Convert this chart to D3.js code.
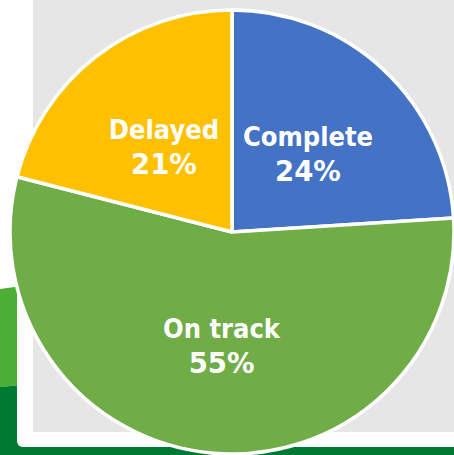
<!DOCTYPE html>
<html>
<head>
<meta charset="utf-8">
<script src="https://cdn.jsdelivr.net/npm/d3@7"></script>
<style>
  html, body { margin: 0; padding: 0; background: #ffffff; overflow: hidden; }
  svg { display: block; }
</style>
</head>
<body>
<script>
const categories = ["Complete", "On track", "Delayed"];
const values = [24, 55, 21];
const percentLabels = ["24%", "55%", "21%"];
const colors = ["#4472C4", "#70AD47", "#FFC000"];

const W = 454, H = 455;
const svg = d3.select("body").append("svg").attr("width", W).attr("height", H);

// slide decoration
svg.append("rect").attr("x", 0).attr("y", 0).attr("width", W).attr("height", H).attr("fill", "#ffffff");
svg.append("polygon").attr("points", "0,289 22,286 22,385 0,387").attr("fill", "#4DAE35");
svg.append("polygon").attr("points", "0,387 22,385 22,455 0,455").attr("fill", "#007A33");
svg.append("rect").attr("x", 0).attr("y", 447).attr("width", W).attr("height", 8).attr("fill", "#007A33");
svg.append("rect").attr("x", 17).attr("y", -20).attr("width", 470).attr("height", 467).attr("rx", 6).attr("fill", "#ffffff");
// plot area
svg.append("rect").attr("x", 33).attr("y", 0).attr("width", W - 33).attr("height", 432).attr("fill", "#E6E6E6");

const cx = 232, cy = 232, r = 222;
const pie = d3.pie().sort(null).value(d => d.value);
const data = categories.map((c, i) => ({ name: c, value: values[i], pct: percentLabels[i], color: colors[i] }));
const arcs = pie(data);
const arc = d3.arc().innerRadius(0).outerRadius(r);

const g = svg.append("g").attr("transform", `translate(${cx},${cy})`);
g.selectAll("path.slice").data(arcs).enter().append("path")
  .attr("class", "slice")
  .attr("d", arc)
  .attr("fill", d => d.data.color)
  .attr("stroke", "#ffffff")
  .attr("stroke-width", 3.5)
  .attr("stroke-linejoin", "round");

const labels = g.selectAll("text.lbl").data(arcs).enter().append("text")
  .attr("class", "lbl")
  .attr("transform", d => `translate(${arc.centroid(d)})`)
  .attr("text-anchor", "middle")
  .attr("fill", "#ffffff")
  .style("font-weight", "bold");
labels.append("tspan").attr("x", 0).attr("y", -5)
  .style("font-family", "'DejaVu Sans Condensed', 'DejaVu Sans', sans-serif")
  .style("font-stretch", "condensed")
  .style("font-size", "27px")
  .text(d => d.data.name);
labels.append("tspan").attr("x", 0).attr("y", 30)
  .style("font-family", "'DejaVu Sans', sans-serif")
  .style("font-size", "27.5px")
  .text(d => d.data.pct);
</script>
</body>
</html>
